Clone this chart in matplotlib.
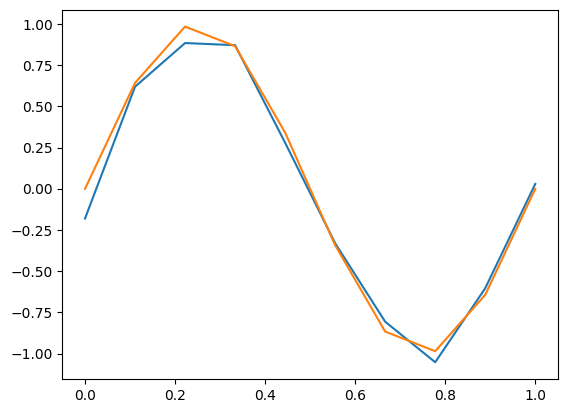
import numpy as np
from matplotlib import pyplot as plt

x = np.linspace(0, 1, 10)
y_noisy = [-0.18, 0.62, 0.885, 0.872, 0.28, -0.33, -0.806, -1.052, -0.603, 0.03]
y_true = [0.0, 0.643, 0.985, 0.866, 0.342, -0.342, -0.866, -0.985, -0.643, 0.0]

fig = plt.figure(figsize=(5.68, 4.13), dpi=100)
ax = fig.add_axes([0.110, 0.0823, 0.872, 0.894])
ax.plot(x, y_noisy)
ax.plot(x, y_true)

fig.savefig("out.png", dpi=100)
